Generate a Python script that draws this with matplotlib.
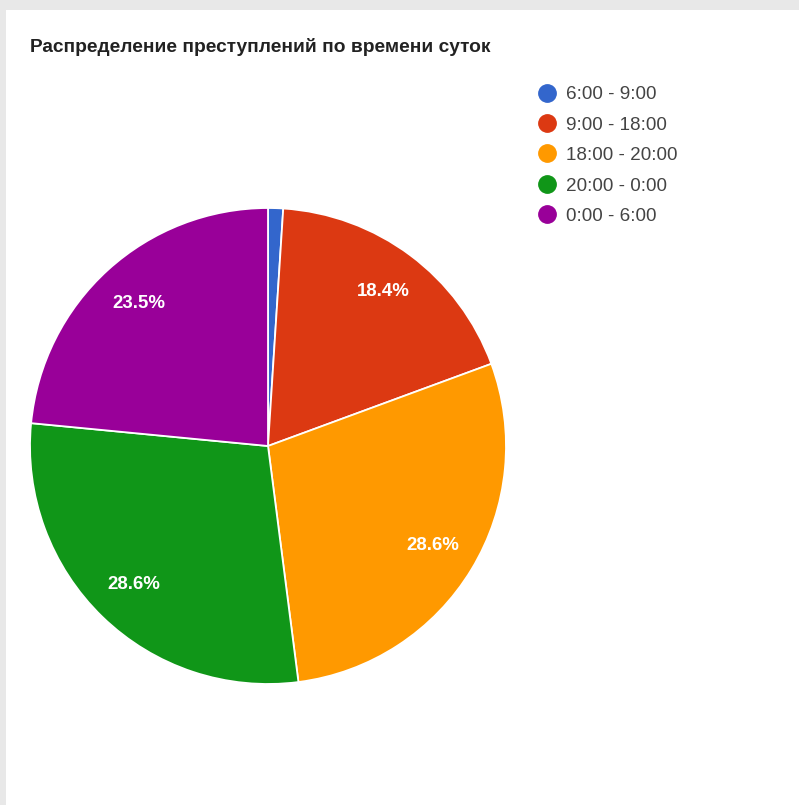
import matplotlib.pyplot as plt
from matplotlib.patches import Rectangle
from matplotlib.lines import Line2D

plt.rcParams['font.family'] = ['Liberation Sans', 'DejaVu Sans']

periods = ['6:00 - 9:00', '9:00 - 18:00', '18:00 - 20:00', '20:00 - 0:00', '0:00 - 6:00']
counts = [1, 18, 28, 28, 23]
colors = ['#3366cc', '#dc3912', '#ff9900', '#109618', '#990099']

W, H = 799, 805
fig = plt.figure(figsize=(W / 100, H / 100), dpi=100, facecolor='#e8e8e8')
# white card inside the grey frame
fig.patches.append(Rectangle((6 / W, 0), 1 - 6 / W, 1 - 10 / H, transform=fig.transFigure,
                             facecolor='white', edgecolor='none', zorder=-10))

cx, cy, r = 268, 446, 238
ax = fig.add_axes([(cx - r) / W, (H - cy - r) / H, 2 * r / W, 2 * r / H])
ax.set_zorder(2)
wedges, texts, autotexts = ax.pie(
    counts, colors=colors, startangle=90, counterclock=False, radius=1,
    autopct=lambda p: f'{p:.1f}%' if p > 5 else '', pctdistance=0.81,
    wedgeprops=dict(edgecolor='white', linewidth=1.3),
    textprops=dict(color='white', fontsize=13.4, fontweight='bold'))
ax.set_xlim(-1, 1)
ax.set_ylim(-1, 1)
ax.set_aspect('equal')
ax.axis('off')

fig.text(30 / W, 1 - 52 / H, 'Распределение преступлений по времени суток',
         fontsize=13.8, fontweight='bold', color='#222222', va='baseline', ha='left')

handles = [Line2D([], [], marker='o', linestyle='none', markersize=12.5,
                  markerfacecolor=c, markeredgecolor=c) for c in colors]
fig.legend(handles, periods, loc='upper left', bbox_to_anchor=(538 / W, 1 - 86 / H),
           frameon=False, fontsize=13.6, handlelength=1.0, handletextpad=0.5,
           labelspacing=0.7, borderaxespad=0, borderpad=0, labelcolor='#444444')

fig.savefig('out.png', dpi=100, facecolor=fig.get_facecolor())
